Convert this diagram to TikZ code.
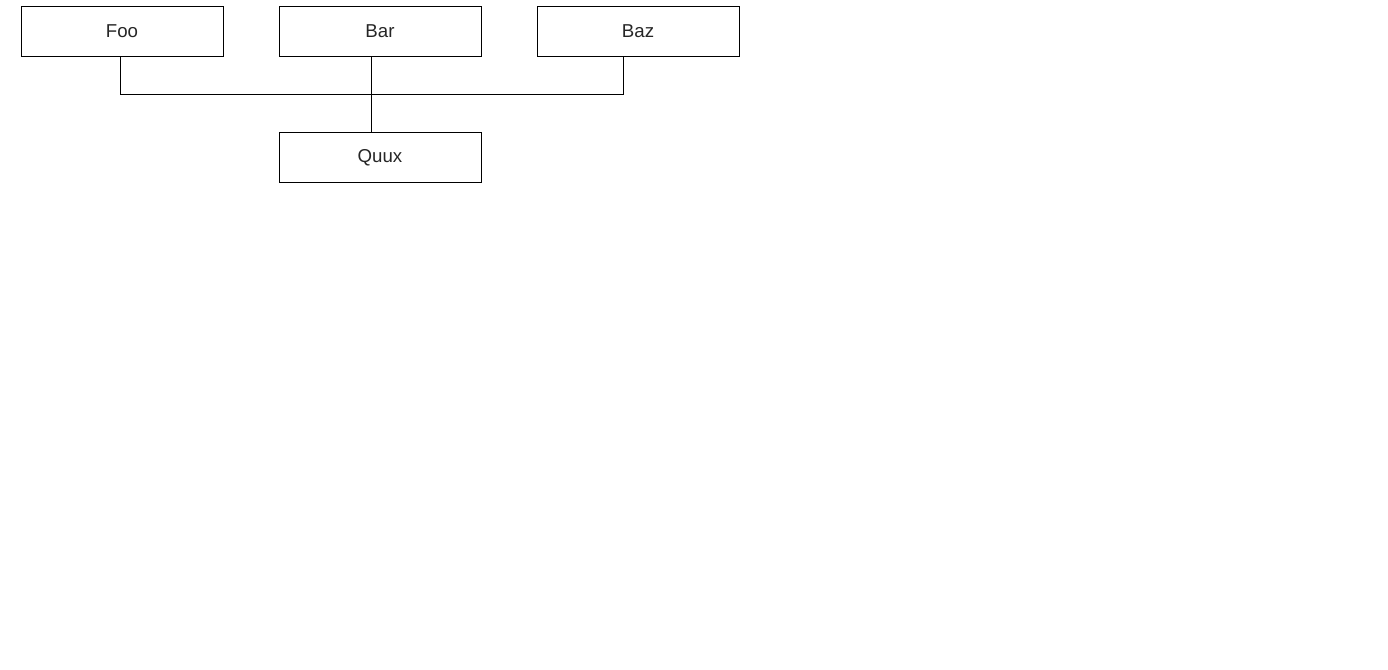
\documentclass[tikz,border=0pt]{standalone}
\usepackage{fontspec}
\setmainfont{Liberation Sans}
\usetikzlibrary{positioning}
\begin{document}
\begin{tikzpicture}[x=0.75pt, y=-0.75pt, line width=0.75pt,
	box/.style={draw, minimum width=151.5pt, minimum height=37.5pt, inner sep=0pt, outer sep=0pt, font=\fontsize{14pt}{16pt}\selectfont, text=black!85},
	node distance=42pt]
					\useasboundingbox (0,0) rectangle (1388,670);
					\node [box] (foo) at (122,31.5) {Foo};
					\node [box, right=of foo] (bar) {Bar};
					\node [box, right=of bar] (baz) {Baz};
					\node [box, below=57pt of bar] (quux) {Quux};
					\coordinate (hub) at (371,94.5);
					
					\draw ([xshift=-1.5pt]foo.south) |- (hub);
					\draw ([xshift=-11.25pt]baz.south) |- (hub);
					
					\draw ([xshift=-6.75pt]bar.south) -- ([xshift=-6.75pt]quux.north);
				\end{tikzpicture}
\end{document}
